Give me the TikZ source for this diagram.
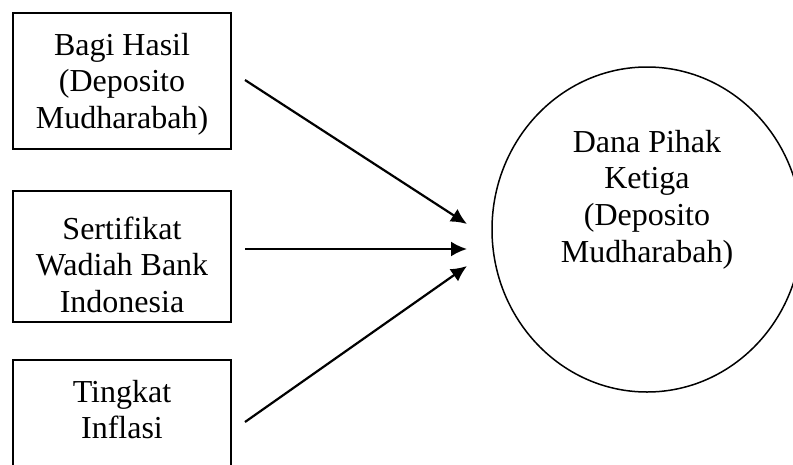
\documentclass[tikz,border=0pt]{standalone}
\usepackage{fontspec}
\setmainfont{Liberation Serif}
\usetikzlibrary{arrows.meta,shapes.geometric}
\begin{document}
\begin{tikzpicture}[x=1pt,y=-1pt,
  boxnode/.style={draw=black,line width=1.8pt,rectangle,minimum width=218pt,inner sep=0pt},
  ovalnode/.style={draw=black,line width=1.5pt,ellipse,minimum width=310pt,minimum height=325pt,inner sep=0pt},
  txt/.style={anchor=base,inner sep=0pt,font=\fontsize{32pt}{36.7pt}\selectfont},
  conn/.style={line width=2.2pt,-{Latex[length=16pt,width=15pt]}}]
\useasboundingbox (0,0) rectangle (793,464);
% boxes
\node[boxnode,minimum height=136pt] (b1) at (122,81) {};
\node[boxnode,minimum height=131pt] (b2) at (122,256.5) {};
\node[boxnode,minimum height=140pt] (b3) at (122,430) {};
% circle
\node[ovalnode] (c) at (647,229.5) {};
% texts
\node[txt] (t1) at (122,55) {\begin{tabular}[t]{@{}c@{}}Bagi Hasil\\(Deposito\\Mudharabah)\end{tabular}};
\node[txt] (t2) at (122,239) {\begin{tabular}[t]{@{}c@{}}Sertifikat\\Wadiah Bank\\Indonesia\end{tabular}};
\node[txt] (t3) at (122,402) {\begin{tabular}[t]{@{}c@{}}Tingkat\\Inflasi\end{tabular}};
\node[txt] (tc) at (647,152) {\begin{tabular}[t]{@{}c@{}}Dana Pihak\\Ketiga\\(Deposito\\Mudharabah)\end{tabular}};
% connector ends
\coordinate (s1) at (245,80);
\coordinate (s2) at (245,249);
\coordinate (s3) at (245,422);
\coordinate (e1) at (467,224);
\coordinate (e2) at (467,249);
\coordinate (e3) at (467,266);
\draw[conn] (s1) -- (e1);
\draw[conn] (s2) -- (e2);
\draw[conn] (s3) -- (e3);
\end{tikzpicture}
\end{document}
